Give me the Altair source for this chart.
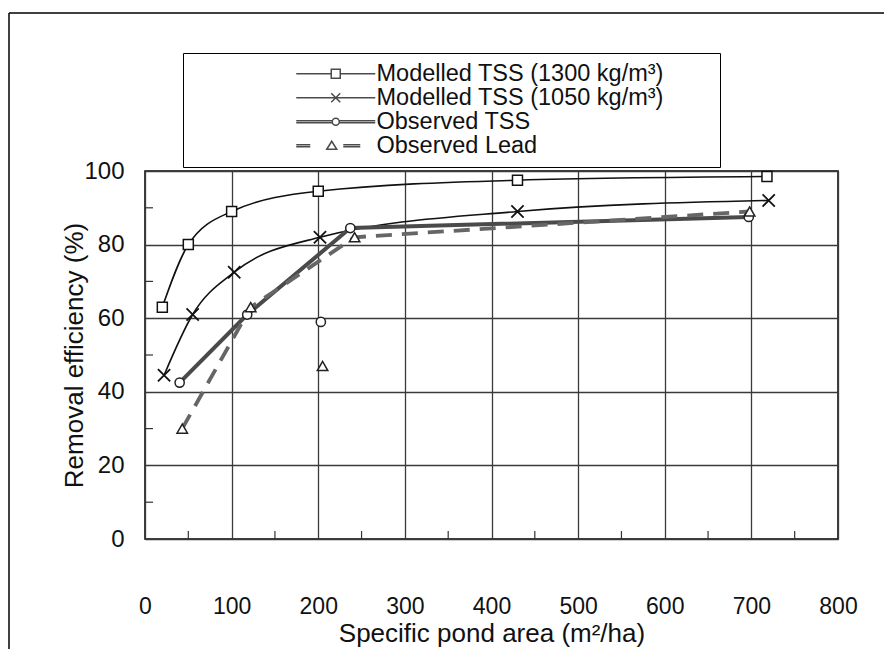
import altair as alt
import pandas as pd

# ---- data ----
m1300_x = [20, 50, 100, 200, 430, 718]
m1300_y = [63, 80, 89, 94.5, 97.5, 98.5]

m1050_x = [22, 55, 103, 202, 430, 720]
m1050_y = [44.5, 61, 72.5, 82, 89, 92]

tss_x = [40, 118, 237, 697]
tss_y = [42.5, 61, 84.5, 87.5]
tss_iso_x = [203]
tss_iso_y = [59]

lead_x = [43, 122, 242, 698]
lead_y = [30, 63, 82, 89]
lead_iso_x = [205]
lead_iso_y = [47]

series = ["Modelled TSS (1300 kg/m³)", "Modelled TSS (1050 kg/m³)",
          "Observed TSS", "Observed Lead"]

x_ticks = [0, 100, 200, 300, 400, 500, 600, 700, 800]
y_ticks = [0, 20, 40, 60, 80, 100]
x_minor = [50, 150, 250, 350, 450, 550, 650, 750]
y_minor = [10, 30, 50, 70, 90]

W, H = 693, 368

def df(xs, ys):
    return pd.DataFrame({"x": xs, "y": ys})

X = alt.X("x:Q", scale=alt.Scale(domain=[0, 800], nice=False),
          axis=alt.Axis(values=x_ticks, grid=True, ticks=False, tickSize=0,
                        domain=False, labelPadding=56, labelFontSize=23,
                        titleFontSize=26, titlePadding=2, labelFlush=False,
                        title="Specific pond area (m²/ha)"))
Y = alt.Y("y:Q", scale=alt.Scale(domain=[0, 100], nice=False),
          axis=alt.Axis(values=y_ticks, grid=True, ticks=False, tickSize=0,
                        domain=False, labelPadding=21, labelFontSize=24,
                        titleFontSize=26, titlePadding=-4, labelFlush=False,
                        title="Removal efficiency  (%)"))

layers = []

# decorative outer frame
layers.append(alt.Chart(pd.DataFrame({"a": [0]})).mark_rule(color="black", strokeWidth=1.5).encode(
    x=alt.value(-136), y=alt.value(-158), y2=alt.value(478)))
layers.append(alt.Chart(pd.DataFrame({"a": [0]})).mark_rule(color="black", strokeWidth=1.5).encode(
    x=alt.value(-136), x2=alt.value(739), y=alt.value(-158)))

# minor ticks
layers.append(alt.Chart(pd.DataFrame({"x": x_minor})).mark_rule(color="#333", strokeWidth=1.2).encode(
    x=alt.X("x:Q"), y=alt.value(H), y2=alt.value(H - 8)))
layers.append(alt.Chart(pd.DataFrame({"y": y_minor})).mark_rule(color="#333", strokeWidth=1.2).encode(
    y=alt.Y("y:Q"), x=alt.value(0), x2=alt.value(8)))

# lines
layers.append(alt.Chart(df(m1300_x, m1300_y)).mark_line(
    interpolate="monotone", color="#111", strokeWidth=1.6).encode(x=X, y=Y))
layers.append(alt.Chart(df(m1050_x, m1050_y)).mark_line(
    interpolate="monotone", color="#111", strokeWidth=1.6).encode(x="x:Q", y="y:Q"))
layers.append(alt.Chart(df(tss_x, tss_y)).mark_line(
    color="#4a4a4a", strokeWidth=4).encode(x="x:Q", y="y:Q"))
layers.append(alt.Chart(df(lead_x, lead_y)).mark_line(
    color="#666", strokeWidth=3.8, strokeDash=[16, 10]).encode(x="x:Q", y="y:Q"))

# points
xpath = "M-1,-1L1,1M-1,1L1,-1"
layers.append(alt.Chart(df(m1300_x, m1300_y)).mark_point(
    shape="square", size=100, filled=True, fill="white", stroke="#111", strokeWidth=1.5, opacity=1
).encode(x="x:Q", y="y:Q"))
layers.append(alt.Chart(df(m1050_x, m1050_y)).mark_point(
    shape=xpath, size=150, filled=False, stroke="#111", strokeWidth=1.8, opacity=1
).encode(x="x:Q", y="y:Q"))
layers.append(alt.Chart(df(tss_x + tss_iso_x, tss_y + tss_iso_y)).mark_point(
    shape="circle", size=85, filled=True, fill="white", stroke="#222", strokeWidth=1.5, opacity=1
).encode(x="x:Q", y="y:Q"))
layers.append(alt.Chart(df(lead_x + lead_iso_x, lead_y + lead_iso_y)).mark_point(
    shape="triangle-up", size=110, filled=True, fill="white", stroke="#222", strokeWidth=1.5, opacity=1
).encode(x="x:Q", y="y:Q"))

# legend (symbols are line + marker paths)
p_sq = "M-7.9,0L-0.9,0M-0.9,-0.9L0.9,-0.9L0.9,0.9L-0.9,0.9ZM0.9,0L7.9,0"
p_x = "M-7.9,0L7.9,0M-0.9,-0.9L0.9,0.9M-0.9,0.9L0.9,-0.9"
p_ci = ("M-7.9,-0.2L-0.7,-0.2M-7.9,0.2L-0.7,0.2M0.7,-0.2L7.9,-0.2M0.7,0.2L7.9,0.2"
        "M-0.7,0A0.7,0.7 0 1,0 0.7,0A0.7,0.7 0 1,0 -0.7,0")
p_tr = ("M-7.9,-0.2L-5.1,-0.2M-7.9,0.2L-5.1,0.2M1.5,-0.2L4.9,-0.2M1.5,0.2L4.9,0.2"
        "M-1.8,0.7L-0.8,-0.9L0.2,0.7Z")

leg_df = pd.DataFrame({"series": series, "x": [0] * 4, "y": [0] * 4})
layers.append(alt.Chart(leg_df).transform_filter("false").mark_point(
    filled=False, color="black").encode(
    x="x:Q", y="y:Q",
    shape=alt.Shape("series:N",
                    scale=alt.Scale(domain=series, range=[p_sq, p_x, p_ci, p_tr]),
                    legend=alt.Legend(
                        orient="none", legendX=38, legendY=-118,
                        title="\u00a0", titleOrient="right", titlePadding=47,
                        titleFontSize=10,
                        strokeColor="black", padding=9, fillColor="white",
                        symbolSize=100, symbolStrokeColor="black", symbolStrokeWidth=1.5,
                        symbolFillColor="transparent", symbolOffset=132,
                        labelOffset=29, labelFontSize=23.5, labelLimit=700,
                        rowPadding=-3))))

chart = alt.layer(*layers).properties(
    width=W, height=H,
    padding={"left": 0, "top": 4, "right": 0, "bottom": 0},
).configure(font="Liberation Sans").configure_view(
    stroke="black", strokeWidth=1.5
).configure_axis(
    gridColor="#3a3a3a", gridWidth=1.3, gridOpacity=1,
    labelColor="#111", titleColor="#111", labelFont="Liberation Sans",
    titleFont="Liberation Sans", titleFontWeight="normal"
).configure_legend(labelFont="Liberation Sans", labelColor="#111")

chart.save("out.html", embed_options={"renderer": "svg", "actions": False})
